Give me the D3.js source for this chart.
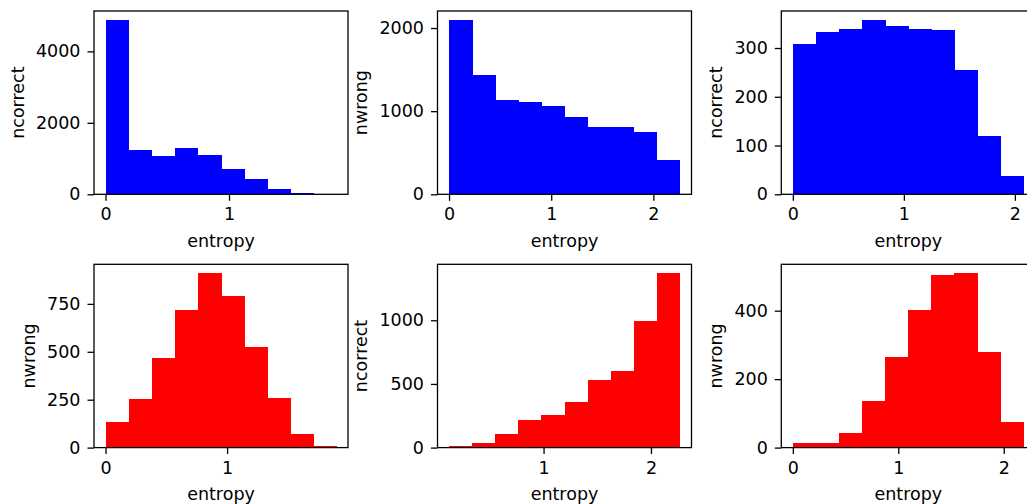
<!DOCTYPE html>
<html>
<head>
<meta charset="utf-8">
<script src="https://cdn.jsdelivr.net/npm/d3@7"></script>
<style>
  body { margin: 0; background: #fff; }
  svg { display: block; }
  text { font-family: "DejaVu Sans", sans-serif; fill: #000; }
</style>
</head>
<body>
<svg id="chart" width="1027" height="504"></svg>
<script>
// histogram counts per panel (10 equal bins between lo and hi)
var correct1 = [4885, 1245, 1060, 1284, 1089, 715, 419, 156, 45, 6];
var wrong1   = [2100, 1440, 1135, 1116, 1068, 924, 811, 808, 748, 408];
var correct2 = [309, 333, 339, 358, 345, 339, 337, 254, 119, 37];
var wrong2   = [133, 253, 470, 717, 911, 793, 526, 260, 71, 8];
var correct3 = [10, 34, 110, 214, 256, 361, 530, 603, 995, 1371];
var wrong3   = [12, 12, 44, 135, 264, 401, 503, 510, 280, 76];

// entropy range covered by the bins
var range1 = [0, 1.87];
var range2 = [0, 2.26];
var range3 = [0, 2.08];
var range4 = [0, 1.9];
var range5 = [0.12, 2.27];
var range6 = [0, 2.19];

// tick labels
var xticks1 = [0, 1], xticks2 = [0, 1, 2], xticks3 = [0, 1, 2];
var xticks4 = [0, 1], xticks5 = [1, 2], xticks6 = [0, 1, 2];
var yticks1 = [0, 2000, 4000], yticks2 = [0, 1000, 2000], yticks3 = [0, 100, 200, 300];
var yticks4 = [0, 250, 500, 750], yticks5 = [0, 500, 1000], yticks6 = [0, 200, 400];

var panels = [
  {counts: correct1, range: range1, xt: xticks1, yt: yticks1, ylab: "ncorrect", color: "#0000ff"},
  {counts: wrong1,   range: range2, xt: xticks2, yt: yticks2, ylab: "nwrong",   color: "#0000ff"},
  {counts: correct2, range: range3, xt: xticks3, yt: yticks3, ylab: "ncorrect", color: "#0000ff"},
  {counts: wrong2,   range: range4, xt: xticks4, yt: yticks4, ylab: "nwrong",   color: "#ff0000"},
  {counts: correct3, range: range5, xt: xticks5, yt: yticks5, ylab: "ncorrect", color: "#ff0000"},
  {counts: wrong3,   range: range6, xt: xticks6, yt: yticks6, ylab: "nwrong",   color: "#ff0000"}
];

var svg = d3.select("#chart");
var colLeft = [94, 437.5, 781.3],
    rowTop = [11, 264.3],
    w = 254, h = 183.3,
    fs = 17.5;

panels.forEach(function (p, i) {
  var left = colLeft[i % 3], top = rowTop[Math.floor(i / 3)];
  var lo = p.range[0], hi = p.range[1], n = p.counts.length;
  var pad = (hi - lo) * 0.05;

  var x = d3.scaleLinear().domain([lo - pad, hi + pad]).range([0, w]);
  var y = d3.scaleLinear().domain([0, d3.max(p.counts) * 1.05]).range([h, 0]);

  var bins = p.counts.map(function (c, k) {
    return {x0: lo + (hi - lo) * k / n, x1: lo + (hi - lo) * (k + 1) / n, c: c};
  });

  var g = svg.append("g")
      .attr("transform", "translate(" + left + "," + top + ")");

  g.selectAll(".bar")
    .data(bins)
    .enter().append("rect")
      .attr("class", "bar")
      .attr("x", function (d) { return x(d.x0); })
      .attr("y", function (d) { return y(d.c); })
      .attr("width", function (d) { return x(d.x1) - x(d.x0) + 0.5; })
      .attr("height", function (d) { return h - y(d.c); })
      .attr("fill", p.color)
      .attr("shape-rendering", "crispEdges");

  g.append("rect")
    .attr("width", w)
    .attr("height", h)
    .attr("fill", "none")
    .attr("stroke", "#000")
    .attr("stroke-width", 1.3);

  var xa = g.append("g")
    .attr("transform", "translate(0," + h + ")")
    .call(d3.axisBottom(x).tickValues(p.xt).tickSize(6.5).tickPadding(7).tickFormat(d3.format("d")));
  var ya = g.append("g")
    .call(d3.axisLeft(y).tickValues(p.yt).tickSize(6.5).tickPadding(7).tickFormat(d3.format("d")));

  [xa, ya].forEach(function (a) {
    a.select(".domain").remove();
    a.selectAll(".tick line").attr("stroke", "#000").attr("stroke-width", 1.3);
    a.selectAll(".tick text").attr("font-size", fs).attr("font-family", "DejaVu Sans").attr("fill", "#000");
  });

  var bb = ya.node().getBBox();
  g.append("text")
    .attr("transform", "translate(" + (bb.x - 12) + "," + (h / 2) + ") rotate(-90)")
    .attr("text-anchor", "middle")
    .attr("font-size", fs)
    .text(p.ylab);

  g.append("text")
    .attr("x", w / 2)
    .attr("y", h + 52.5)
    .attr("text-anchor", "middle")
    .attr("font-size", fs)
    .text("entropy");
});
</script>
</body>
</html>
